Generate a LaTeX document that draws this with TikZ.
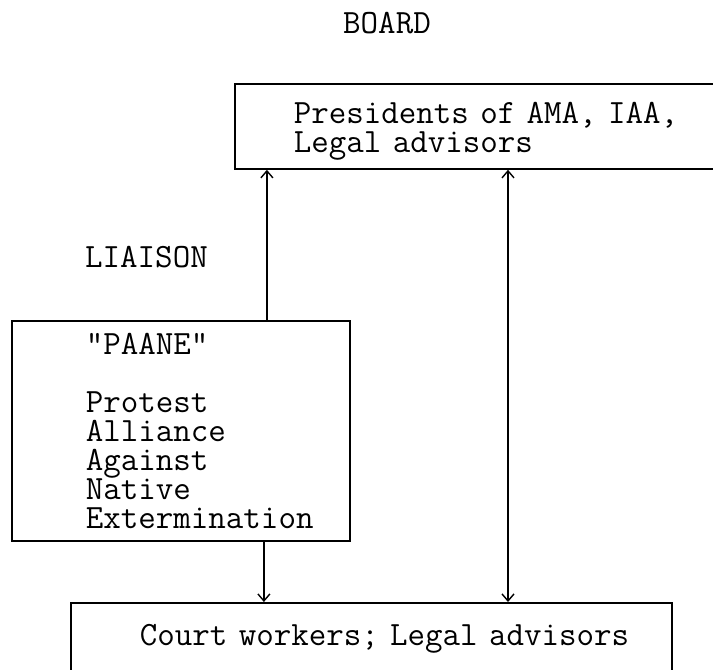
\documentclass[tikz,border=0pt]{standalone}
\usepackage{amsmath}
\usepackage{tikz}
\usetikzlibrary{arrows.meta}

\begin{document}
\begin{tikzpicture}[x=1pt, y=-1pt, every node/.style={inner sep=0pt, font=\fontsize{34}{29}\selectfont\ttfamily}, box/.style={rectangle, draw=black, line width=1.8pt, anchor=north west, align=left}, arr/.style={draw=black, line width=1.4pt, -{Straight Barb[length=7pt, width=12pt]}}, darr/.style={arr, {Straight Barb[length=7pt, width=12pt]}-{Straight Barb[length=7pt, width=12pt]}}]
			\useasboundingbox (0,0) rectangle (713,670);
			
			\node[anchor=base] (s) at (387,33){BOARD};
			\node[anchor=base west] (t) at (85,267){LIAISON};
			
			\node[box, text width=514pt, minimum height=85pt] (p) at (234,83){\leftskip=59pt \rule{0pt}{31pt}Presidents of AMA, IAA,\\Legal advisors\par};
			\node[box, text width=338pt, minimum height=220pt] (q) at (11,320){\leftskip=74pt "PAANE"\\[29pt]Protest\\Alliance\\Against\\Native\\Extermination\par};
			\node[box, text width=601pt, minimum height=72pt] (r) at (70,602){\leftskip=69pt Court workers; Legal advisors\par};
			
			\coordinate (m) at (508,400);
			
			\draw[arr] ([xshift=86pt]q.north) -- ([xshift=86pt]q.north |- p.south);
			\draw[arr] ([xshift=83pt]q.south) -- ([xshift=83pt]q.south |- r.north);
			\draw[darr] (m |- p.south) -- (m |- r.north);
			\end{tikzpicture}
\end{document}
